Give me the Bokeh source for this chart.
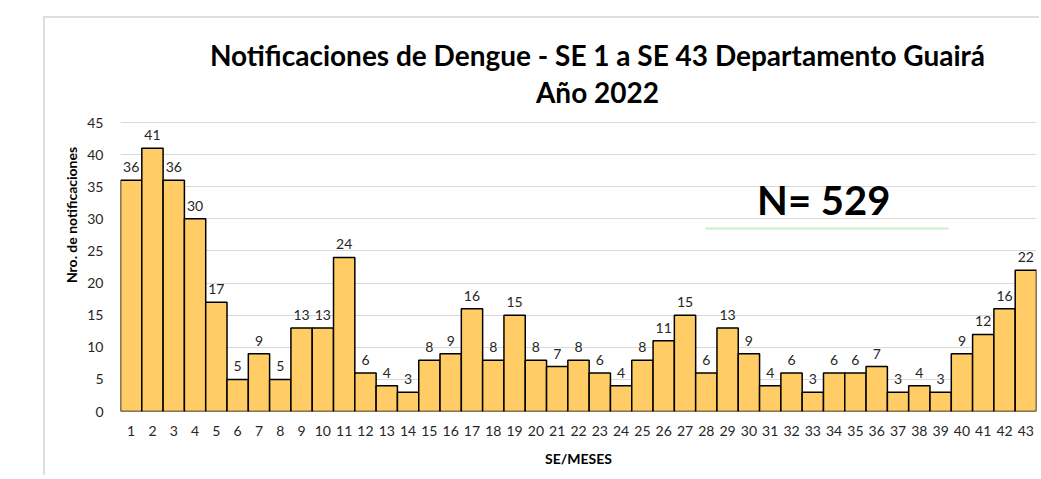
from bokeh.plotting import figure
from bokeh.models import Label, FixedTicker, ColumnDataSource, LabelSet
from bokeh.core.properties import value
from bokeh.embed import file_html
from bokeh.resources import INLINE

weeks = list(range(1, 44))
counts = [36, 41, 36, 30, 17, 5, 9, 5, 13, 13, 24, 6, 4, 3, 8, 9, 16, 8, 15, 8,
          7, 8, 6, 4, 8, 11, 15, 6, 13, 9, 4, 6, 3, 6, 6, 7, 3, 4, 3, 9, 12, 16, 22]
tick_labels = [str(w) for w in weeks]
y_ticks = [0, 5, 10, 15, 20, 25, 30, 35, 40, 45]
title_line1 = "Notificaciones de Dengue - SE 1 a SE 43 Departamento Guairá"
title_line2 = "Año 2022"
n_text = "N=  529"
x_label = "SE/MESES"
y_label = "Nro. de notificaciones"

FONT = "Lato"

src = ColumnDataSource(dict(x=weeks, top=counts, lab=[str(c) for c in counts]))

p = figure(width=996, height=459, x_range=(0.5, 43.5), y_range=(0, 61.2),
           output_backend="svg", toolbar_location=None,
           min_border_left=75, min_border_right=5, min_border_top=0, min_border_bottom=66)
p.margin = (16, 0, 0, 43)
p.styles = {"border-left": "2px solid #dedede", "border-top": "2px solid #dedede"}
p.outline_line_color = None
p.background_fill_color = "white"
p.border_fill_color = "white"

p.vbar(x="x", top="top", width=1.0, source=src, fill_color="#FFCC66",
       line_color="black", line_width=1.5)

labels = LabelSet(x="x", y="top", text="lab", source=src, y_offset=8,
                  text_align="center", text_baseline="bottom",
                  text_font=value(FONT), text_font_size="14px", text_color="#262626")
p.add_layout(labels)

p.xgrid.grid_line_color = None
p.ygrid.grid_line_color = "#d9d9d9"
p.ygrid.grid_line_width = 1

p.xaxis.ticker = FixedTicker(ticks=weeks)
p.xaxis.major_label_overrides = {w: t for w, t in zip(weeks, tick_labels)}
p.yaxis.ticker = FixedTicker(ticks=y_ticks)
for ax in (p.xaxis, p.yaxis):
    ax.axis_line_color = None
    ax.major_tick_line_color = None
    ax.minor_tick_line_color = None
    ax.major_label_text_font = FONT
    ax.major_label_text_font_size = "14px"
    ax.major_label_text_color = "#262626"
    ax.axis_label_text_font = FONT
    ax.axis_label_text_font_style = "bold"
    ax.axis_label_text_font_size = "14px"
    ax.axis_label_text_color = "black"
p.xaxis.major_label_standoff = 8
p.yaxis.major_label_standoff = 11
p.xaxis.axis_label = x_label
p.yaxis.axis_label = y_label
p.xaxis.axis_label_standoff = 11
p.yaxis.axis_label_standoff = 4

p.add_layout(Label(x=22.89, y=55.5, text=title_line1, text_align="center",
                   text_baseline="middle", text_font=FONT, text_font_style="bold",
                   text_font_size="28px", text_color="black"))
p.add_layout(Label(x=22.89, y=49.7, text=title_line2, text_align="center",
                   text_baseline="middle", text_font=FONT, text_font_style="bold",
                   text_font_size="28px", text_color="black"))
p.add_layout(Label(x=33.74, y=32.86, text=n_text, text_align="center",
                   text_baseline="middle", text_font=FONT, text_font_style="bold",
                   text_font_size="40px", text_color="black"))
p.segment(x0=[27.96], y0=[28.5], x1=[39.37], y1=[28.5], line_color="#c6efce", line_width=2)

open("out.html", "w").write(file_html(p, INLINE))
